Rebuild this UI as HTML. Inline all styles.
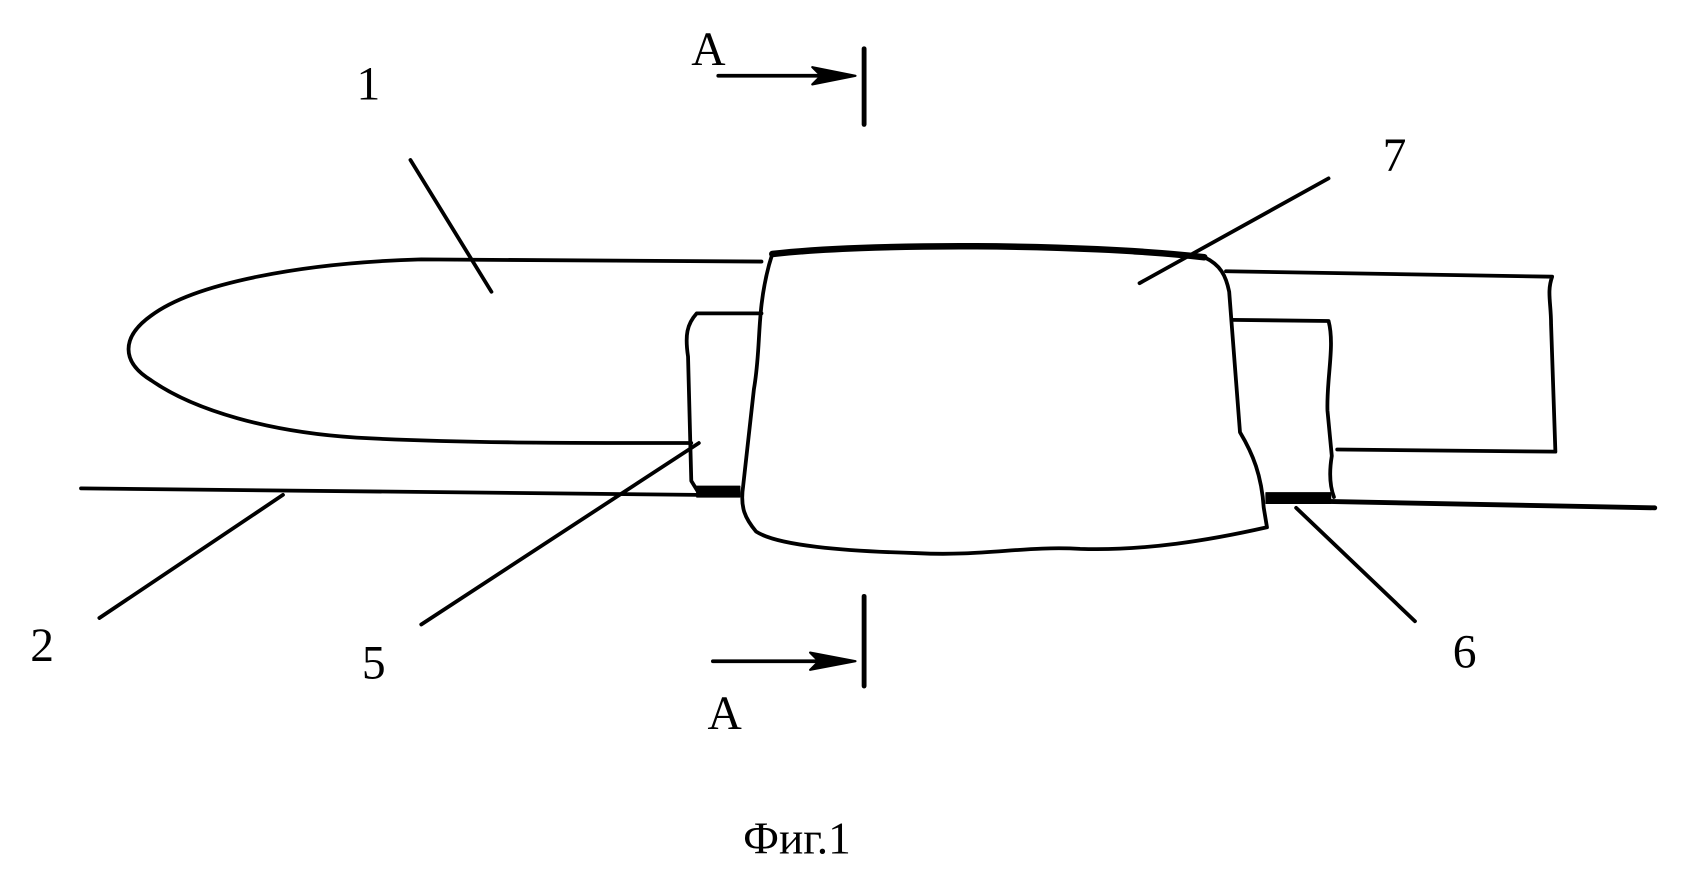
<!DOCTYPE html>
<html><head><meta charset="utf-8"><style>
html,body{margin:0;padding:0;background:#fff;}
svg{display:block}
text{font-family:"Liberation Serif",serif;fill:#000}
</style></head><body>
<svg width="1685" height="872" viewBox="0 0 1560 807" xmlns="http://www.w3.org/2000/svg">
<g fill="none" stroke="#000" stroke-linecap="round" stroke-linejoin="round">
<!-- Section A top -->
<line x1="665" y1="70" x2="780" y2="70" stroke-width="3.5"/>
<path d="M752 62 L792 70 L752 78 L760 70 Z" fill="#000" stroke-width="2"/>
<line x1="800" y1="45" x2="800" y2="115" stroke-width="4.5"/>
<!-- Section A bottom -->
<line x1="660" y1="612" x2="780" y2="612" stroke-width="3.5"/>
<path d="M750 604 L792 612 L750 620 L758 612 Z" fill="#000" stroke-width="2"/>
<line x1="800" y1="552" x2="800" y2="635" stroke-width="4.5"/>
<!-- body 1 -->
<path d="M705 242 L390 240 C280 243 180 262 140 292 C112 312 112 335 140 352 C180 380 250 400 330 405 C420 410 520 410 640 410" stroke-width="3.5"/>
<!-- right cylinder -->
<path d="M1135 251 L1437 256 C1432 270 1436 280 1436 300 L1440 418 L1238 416" stroke-width="3.5"/>
<!-- line 2 -->
<line x1="75" y1="452" x2="645" y2="458" stroke-width="3.5"/>
<line x1="1175" y1="463" x2="1532" y2="470" stroke-width="4.5"/>
<!-- element 5 left -->
<path d="M705 290 L645 290 C636 300 634 310 637 330 L640 445 L648 458" stroke-width="3.5"/>
<rect x="645" y="450" width="40" height="10" fill="#000" stroke-width="1"/>
<!-- element 5 right -->
<path d="M1140 296 L1230 297 C1236 320 1228 350 1229 380 L1233 422 C1230 440 1232 452 1235 460" stroke-width="3.5"/>
<rect x="1172" y="456" width="60" height="10" fill="#000" stroke-width="1"/>
<!-- element 7 -->
<path d="M715 235 C800 225 1000 225 1115 238 C1130 245 1135 255 1138 270 L1148 400 C1160 420 1168 440 1170 470 L1173 488 C1120 500 1060 510 1000 508 C950 505 910 515 850 512 C780 510 720 505 700 492 C690 480 685 470 688 450 L698 360 C705 320 700 290 712 245 Z" stroke-width="3.5"/>
<path d="M715 235 C800 225 1000 225 1115 238" stroke-width="6"/>
<!-- leaders -->
<line x1="380" y1="148" x2="455" y2="270" stroke-width="3.5"/>
<line x1="1230" y1="165" x2="1055" y2="262" stroke-width="3.5"/>
<line x1="92" y1="572" x2="262" y2="458" stroke-width="3.5"/>
<line x1="390" y1="578" x2="647" y2="410" stroke-width="3.5"/>
<line x1="1310" y1="575" x2="1200" y2="470" stroke-width="3.5"/>
</g>
<g font-size="44">
<text x="640" y="60">A</text>
<text x="330" y="92">1</text>
<text x="1280" y="158">7</text>
<text x="28" y="612">2</text>
<text x="335" y="628">5</text>
<text x="1345" y="618">6</text>
<text x="655" y="675">A</text>
<text x="688" y="790" font-size="42">Фиг.1</text>
</g>
</svg>
</body></html>
